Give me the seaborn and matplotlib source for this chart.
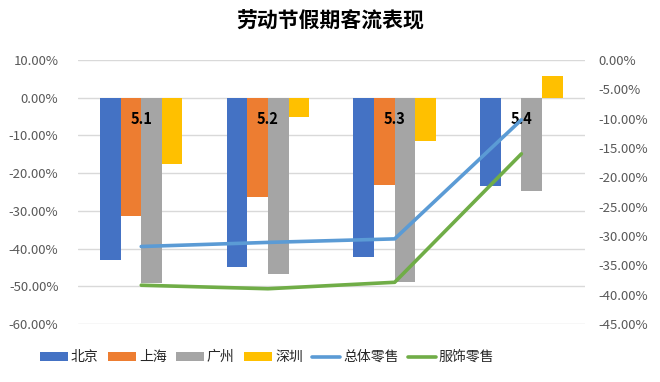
import pandas as pd
import matplotlib.pyplot as plt
import seaborn as sns
from matplotlib.ticker import FuncFormatter

# ==========================
# DATA
# ==========================

dates = ["5.1", "5.2", "5.3", "5.4"]
cities = ["北京", "上海", "广州", "深圳"]

beijing = [-0.430, -0.448, -0.422, -0.235]
shanghai = [-0.313, -0.263, -0.232, 0.0]
guangzhou = [-0.491, -0.468, -0.489, -0.247]
shenzhen = [-0.175, -0.051, -0.115, 0.058]

total_retail = [-0.318, -0.311, -0.305, -0.102]
apparel_retail = [-0.384, -0.390, -0.379, -0.160]

bar_colors = ["#4472C4", "#ED7D31", "#A5A5A5", "#FFC000"]
line_colors = ["#5B9BD5", "#70AD47"]

# long table for seaborn
rows = []
for city, vals in zip(cities, [beijing, shanghai, guangzhou, shenzhen]):
    for d, v in zip(dates, vals):
        rows.append({"date": d, "city": city, "value": v})
df = pd.DataFrame(rows)


def pct(v, p):
    if abs(v) < 1e-9:
        v = 0.0
    return f"{v * 100:.2f}%"


# ==========================
# STYLE
# ==========================

sns.set_style("white")
plt.rcParams["font.family"] = ["Noto Sans CJK SC", "DejaVu Sans"]
plt.rcParams["axes.unicode_minus"] = False

fig = plt.figure(figsize=(6.6, 3.82), dpi=100)
ax = fig.add_axes([0.118, 0.152, 0.768, 0.691])

# ==========================
# BARS
# ==========================

sns.barplot(
    data=df,
    x="date",
    y="value",
    hue="city",
    order=dates,
    hue_order=cities,
    palette=bar_colors,
    width=0.65,
    saturation=1,
    linewidth=0,
    ax=ax
)

bar_handles, bar_labels = ax.get_legend_handles_labels()
ax.get_legend().remove()

ax.set_ylim(-0.6, 0.1)
ax.set_yticks([0.1, 0.0, -0.1, -0.2, -0.3, -0.4, -0.5, -0.6])
ax.yaxis.set_major_formatter(FuncFormatter(pct))
ax.grid(axis="y", color="#D9D9D9", linewidth=1)
ax.set_axisbelow(True)
ax.set_xlabel("")
ax.set_ylabel("")
ax.set_xticks([])
ax.tick_params(axis="y", length=0, labelsize=9.5, labelcolor="#595959", pad=14)

for i, d in enumerate(dates):
    ax.text(i, -0.057, d, ha="center", va="center",
            fontsize=10.5, fontweight="bold", color="#000000")

# ==========================
# LINES (right axis)
# ==========================

ax2 = ax.twinx()
x_pos = list(range(len(dates)))

sns.lineplot(x=x_pos, y=total_retail, color=line_colors[0],
             linewidth=2.6, label="总体零售", ax=ax2)
sns.lineplot(x=x_pos, y=apparel_retail, color=line_colors[1],
             linewidth=2.6, label="服饰零售", ax=ax2)

line_handles, line_labels = ax2.get_legend_handles_labels()
ax2.get_legend().remove()

ax2.set_ylim(-0.45, 0.0)
ax2.set_yticks([-0.05 * i for i in range(10)])
ax2.yaxis.set_major_formatter(FuncFormatter(pct))
ax2.tick_params(axis="y", length=0, labelsize=9.5, labelcolor="#595959", pad=10)
ax2.set_ylabel("")
ax.set_xlim(-0.5, 3.5)

for a in [ax, ax2]:
    for s in a.spines.values():
        s.set_visible(False)

# ==========================
# TITLE + LEGEND
# ==========================

fig.text(0.5, 0.945, "劳动节假期客流表现", ha="center", va="center",
         fontsize=15, fontweight="bold", color="#000000")

fig.legend(
    bar_handles + line_handles,
    bar_labels + line_labels,
    loc="center",
    bbox_to_anchor=(0.405, 0.065),
    ncol=6,
    frameon=False,
    fontsize=10,
    handlelength=2.0,
    handleheight=0.6,
    handletextpad=0.2,
    columnspacing=0.7
)

plt.savefig("out.png", dpi=100)
plt.close()
